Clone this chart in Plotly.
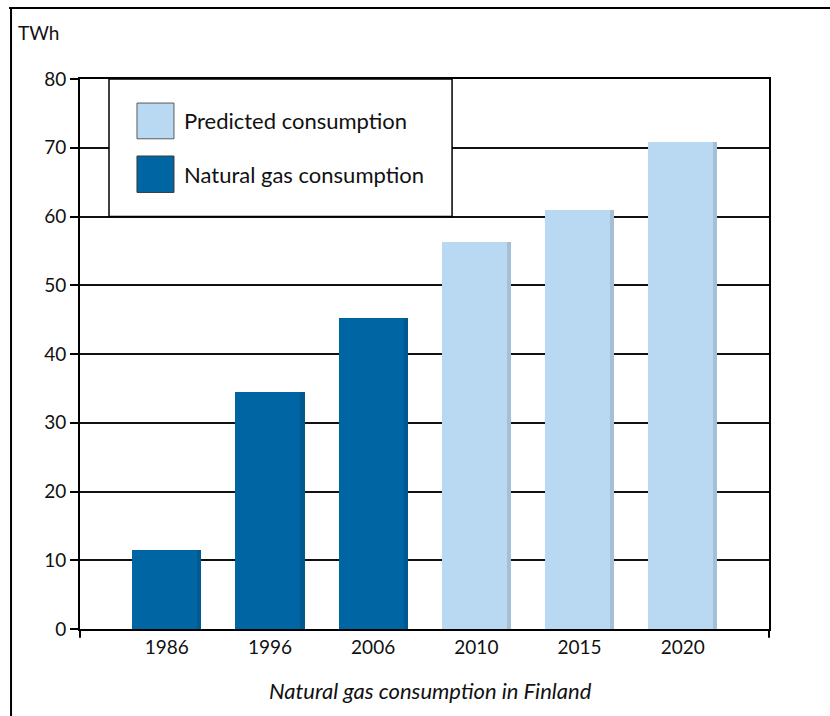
import plotly.graph_objects as go

# Natural gas consumption in Finland, TWh
measured_years = ["1986", "1996", "2006"]
measured_twh = [11.5, 34.5, 45.2]
predicted_years = ["2010", "2015", "2020"]
predicted_twh = [56.3, 61.0, 70.9]
all_years = measured_years + predicted_years
y_ticks = [0, 10, 20, 30, 40, 50, 60, 70, 80]

DARK = "#0066a3"
DARK_EDGE = "#005a90"
LIGHT = "#b8d9f1"
LIGHT_EDGE = "#a3c0d6"
FONT = "Lato"

BAR_W = 0.67
EDGE_W = 0.04

fig = go.Figure()

# main bars
fig.add_trace(go.Bar(x=measured_years, y=measured_twh, marker=dict(color=DARK, line=dict(width=0)),
                     width=BAR_W, name="Natural gas consumption", showlegend=False, hoverinfo="x+y"))
fig.add_trace(go.Bar(x=predicted_years, y=predicted_twh, marker=dict(color=LIGHT, line=dict(width=0)),
                     width=BAR_W, name="Predicted consumption", showlegend=False, hoverinfo="x+y"))
# shaded right-hand edge of each bar
fig.add_trace(go.Bar(x=measured_years, y=measured_twh, marker=dict(color=DARK_EDGE, line=dict(width=0)),
                     width=EDGE_W, offset=BAR_W / 2 - EDGE_W, showlegend=False, hoverinfo="skip"))
fig.add_trace(go.Bar(x=predicted_years, y=predicted_twh, marker=dict(color=LIGHT_EDGE, line=dict(width=0)),
                     width=EDGE_W, offset=BAR_W / 2 - EDGE_W, showlegend=False, hoverinfo="skip"))

shapes = []
# outer frame (left and top edges)
shapes.append(dict(type="line", xref="paper", yref="paper", x0=-0.1001, x1=-0.1001, y0=1.129, y1=-0.2,
                   line=dict(color="black", width=2)))
shapes.append(dict(type="line", xref="paper", yref="paper", x0=-0.103, x1=1.2, y0=1.129, y1=1.129,
                   line=dict(color="black", width=2)))
# end ticks of the category axis
for xp in (0, 1):
    shapes.append(dict(type="line", xref="paper", yref="paper", x0=xp, x1=xp, y0=0, y1=-0.016,
                       line=dict(color="black", width=2)))

# legend box
shapes.append(dict(type="rect", xref="paper", yref="y", x0=0.0421, x1=0.540, y0=60, y1=80,
                   fillcolor="white", line=dict(color="black", width=1.5), layer="above"))
# legend swatches
shapes.append(dict(type="rect", xref="paper", yref="y", x0=0.0827, x1=0.1364, y0=71.3, y1=76.5,
                   fillcolor=LIGHT, line=dict(color="#5a5a5a", width=1), layer="above"))
shapes.append(dict(type="rect", xref="paper", yref="y", x0=0.0827, x1=0.1364, y0=63.5, y1=68.8,
                   fillcolor=DARK, line=dict(color="#3a3a3a", width=1), layer="above"))

annotations = [
    dict(text="Predicted consumption", xref="paper", yref="y", x=0.148, y=73.9, xanchor="left",
         yanchor="middle", showarrow=False, font=dict(family=FONT, size=22, color="#111")),
    dict(text="Natural gas consumption", xref="paper", yref="y", x=0.148, y=66.1, xanchor="left",
         yanchor="middle", showarrow=False, font=dict(family=FONT, size=22, color="#111")),
    dict(text="TWh", xref="paper", yref="paper", x=-0.093, y=1.085, xanchor="left", yanchor="middle",
         showarrow=False, font=dict(family=FONT, size=19, color="#111")),
    dict(text="<i>Natural gas consumption in Finland</i>", xref="paper", yref="paper", x=0.5094, y=-0.1115,
         xanchor="center", yanchor="middle", showarrow=False, font=dict(family=FONT, size=22, color="#111")),
]

fig.update_layout(
    width=830, height=716,
    margin=dict(l=80, r=61, t=79, b=87),
    paper_bgcolor="white", plot_bgcolor="white",
    barmode="overlay", bargap=0,
    font=dict(family=FONT, size=18, color="#111"),
    shapes=shapes, annotations=annotations,
    showlegend=False,
)
fig.update_xaxes(
    type="category", categoryorder="array", categoryarray=all_years,
    range=[-0.84, 5.835], showline=True, linecolor="black", linewidth=2, mirror=True,
    ticks="", showgrid=False, tickfont=dict(family=FONT, size=19, color="#111"),
)
fig.update_yaxes(
    range=[0, 80], tickvals=y_ticks, showline=True, linecolor="black", linewidth=2, mirror=True,
    ticks="outside", ticklen=8, tickwidth=2, tickcolor="black",
    showgrid=True, gridcolor="#111", gridwidth=2, zeroline=False,
    tickfont=dict(family=FONT, size=19, color="#111"),
)

fig.write_html("out.html")
